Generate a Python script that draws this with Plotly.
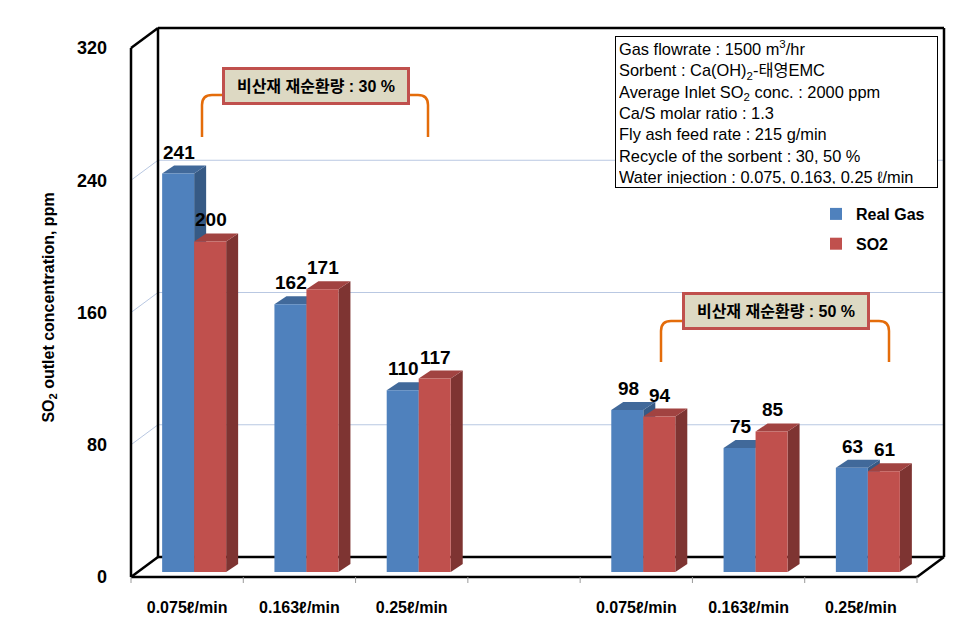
import plotly.graph_objects as go

# ---------------- data ----------------
categories = ["0.075ℓ/min", "0.163ℓ/min", "0.25ℓ/min", "",
              "0.075ℓ/min", "0.163ℓ/min", "0.25ℓ/min"]
real_gas = [241, 162, 110, None, 98, 75, 63]
so2 = [200, 171, 117, None, 94, 85, 61]
y_ticks = [0, 80, 160, 240, 320]
info_lines = [
    "Gas flowrate : 1500 m<sup>3</sup>/hr",
    "Sorbent : Ca(OH)<sub>2</sub>-태영EMC",
    "Average Inlet SO<sub>2</sub> conc. : 2000 ppm",
    "Ca/S molar ratio : 1.3",
    "Fly ash feed rate : 215 g/min",
    "Recycle of the sorbent : 30, 50 %",
    "Water injection : 0.075, 0.163, 0.25 ℓ/min",
]
callout_30 = "비산재 재순환량 : 30 %"
callout_50 = "비산재 재순환량 : 50 %"

# ---------------- styling / geometry ----------------
FONT = "Liberation Sans, Arial, Noto Sans CJK KR, sans-serif"
PAGE_OFF = 8                             # default body margin of the html page
FIG_W, FIG_H = 979 - PAGE_OFF, 641 - PAGE_OFF
L, R, T, B = 138, 924, 43, 572          # plot area (bar plane) in page px
W, H = R - L, B - T
YMAX = 320
N = len(categories)
BARGAP = 0.43
bw = (1 - BARGAP) / 2                    # width of one bar (category units)

DX_PX, DY_PX = 12, 8                     # bar depth projection
dx = DX_PX / (W / N)
dy = DY_PX / (H / YMAX)

FRONT = (-7, 5)                          # front plane offset from bar plane (px)
BACK = (20, -15)                         # back wall offset from bar plane (px)


def px(x):
    return (x - L) / W


def py(y):
    return (B - y) / H


def ypix(v):
    return B - v * H / YMAX


BLUE, BLUE_TOP, BLUE_SIDE = "#4f81bd", "#41699a", "#365a85"
RED, RED_TOP, RED_SIDE = "#c0504d", "#a14341", "#7e3432"

xs = list(range(N))

fig = go.Figure()
fig.add_trace(go.Bar(x=xs, y=real_gas, name="Real Gas", marker=dict(color=BLUE, line=dict(width=0)),
                     legendgroup="a", hoverinfo="y"))
fig.add_trace(go.Bar(x=xs, y=so2, name="SO2", marker=dict(color=RED, line=dict(width=0)),
                     legendgroup="b", hoverinfo="y"))

shapes = []

# ---- 3D frame (paper coords) ----
fl, fr = L + FRONT[0], R + FRONT[0]
ft, fb = T + FRONT[1], B + FRONT[1]
bl, br = L + BACK[0], R + BACK[0]
bt, bb = T + BACK[1], B + BACK[1]


def pline(x0, y0, x1, y1, color="black", width=2.5, layer="below"):
    shapes.append(dict(type="line", xref="paper", yref="paper",
                       x0=px(x0), y0=py(y0), x1=px(x1), y1=py(y1),
                       line=dict(color=color, width=width), layer=layer))


# gridlines on side wall and back wall
GRID = "#b9c8e2"
for v in y_ticks[1:-1]:
    yb = ypix(v)
    pline(fl, yb + FRONT[1], bl, yb + BACK[1], GRID, 1)
    pline(bl, yb + BACK[1], br, yb + BACK[1], GRID, 1)

pline(fl, ft, fl, fb)          # front left vertical
pline(fl, ft, bl, bt)          # top-left diagonal
pline(bl, bt, bl, bb)          # back left vertical
pline(bl, bt, br, bt)          # back top
pline(br, bt, br, bb)          # back right vertical
pline(bl, bb, br, bb)          # floor back edge
pline(fl, fb, fr, fb)          # floor front edge
pline(fl, fb, bl, bb)          # floor left diagonal
pline(fr, fb, br, bb)          # floor right diagonal

# category tick marks on the front plane
for k in range(N + 1):
    xk = fl + k * W / N
    pline(xk, fb, xk, fb + 6, "#9a9a9a", 1)

# ---- bar depth faces (data coords) ----
def faces(values, left_off, top_col, side_col):
    out = []
    for i, v in enumerate(values):
        if v is None:
            continue
        xl = i + left_off
        xr = xl + bw
        top = f"M {xl},{v} L {xr},{v} L {xr + dx},{v + dy} L {xl + dx},{v + dy} Z"
        side = f"M {xr},0 L {xr},{v} L {xr + dx},{v + dy} L {xr + dx},{dy} Z"
        for p, c in ((side, side_col), (top, top_col)):
            out.append(dict(type="path", xref="x", yref="y", path=p,
                            fillcolor=c, line=dict(width=0), layer="below"))
    return out


shapes += faces(real_gas, -bw, BLUE_TOP, BLUE_SIDE)
shapes += faces(so2, 0, RED_TOP, RED_SIDE)

# ---- orange brackets ----
ORANGE = "#e46c0a"


def bracket(x0, x1, ytop, ybot, r=10):
    p = (f"M {px(x0)},{py(ybot)} L {px(x0)},{py(ytop + r)} "
         f"Q {px(x0)},{py(ytop)} {px(x0 + r)},{py(ytop)} "
         f"L {px(x1 - r)},{py(ytop)} Q {px(x1)},{py(ytop)} {px(x1)},{py(ytop + r)} "
         f"L {px(x1)},{py(ybot)}")
    shapes.append(dict(type="path", xref="paper", yref="paper", path=p,
                       line=dict(color=ORANGE, width=2.5), layer="above"))


bracket(202, 428, 95, 137)
bracket(661, 889, 321, 362)

annotations = []
# data labels
for vals, off in ((real_gas, -bw / 2), (so2, bw / 2)):
    for i, v in enumerate(vals):
        if v is None:
            continue
        annotations.append(dict(x=i + off, y=v, xref="x", yref="y", text=str(v),
                                showarrow=False, yanchor="bottom", yshift=9, xshift=1,
                                font=dict(family=FONT, size=19, color="black", weight="bold")))

# info box
annotations.append(dict(x=px(615), y=py(36), xref="paper", yref="paper",
                        xanchor="left", yanchor="top", align="left", valign="middle",
                        width=315, height=144,
                        text="<br>".join(info_lines), showarrow=False,
                        bgcolor="white", bordercolor="black", borderwidth=1, borderpad=3,
                        font=dict(family=FONT, size=16.4, color="black")))

# callout boxes
for txt, cx, cy in ((callout_30, 316, 86), (callout_50, 776, 311)):
    annotations.append(dict(x=px(cx), y=py(cy), xref="paper", yref="paper",
                            xanchor="center", yanchor="middle", text=txt, showarrow=False,
                            bgcolor="#ddd9c3", bordercolor="#c0504d", borderwidth=3,
                            width=178, height=28, borderpad=2,
                            font=dict(family=FONT, size=16, color="black", weight="bold")))

fig.update_layout(
    width=FIG_W, height=FIG_H, autosize=False,
    margin=dict(l=L - PAGE_OFF, r=FIG_W - (R - PAGE_OFF), t=T - PAGE_OFF,
                b=FIG_H - (B - PAGE_OFF), pad=0),
    paper_bgcolor="white", plot_bgcolor="rgba(0,0,0,0)",
    barmode="group", bargap=BARGAP, bargroupgap=0,
    font=dict(family=FONT, color="black"),
    shapes=shapes, annotations=annotations,
    legend=dict(x=px(816), y=py(197), xanchor="left", yanchor="top",
                font=dict(family=FONT, size=16, color="black", weight="bold"),
                tracegroupgap=6, bgcolor="rgba(0,0,0,0)", traceorder="grouped"),
    showlegend=True,
)
fig.update_xaxes(range=[-0.5, N - 0.5], tickmode="array", tickvals=xs, ticktext=categories,
                 showgrid=False, zeroline=False, showline=False, ticks="", automargin=False,
                 ticklabelshift=FRONT[0], ticklabelstandoff=24,
                 tickfont=dict(family=FONT, size=16, color="black", weight="bold"))
fig.update_yaxes(range=[0, YMAX], tickmode="array", tickvals=y_ticks,
                 showgrid=False, zeroline=False, showline=False, ticks="", automargin=False,
                 ticklabelshift=FRONT[1], ticklabelstandoff=30,
                 tickfont=dict(family=FONT, size=18, color="black", weight="bold"),
                 title=dict(text="SO<sub>2</sub> outlet concentration, ppm", standoff=18,
                            font=dict(family=FONT, size=16, color="black", weight="bold")))

fig.write_html("out.html")
